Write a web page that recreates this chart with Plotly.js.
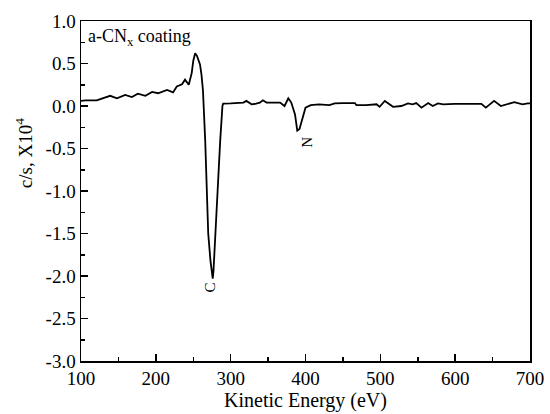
<!DOCTYPE html>
<html>
<head>
<meta charset="utf-8">
<script src="https://cdn.plot.ly/plotly-3.0.1.min.js"></script>
<style>html,body{margin:0;padding:0;background:#fff;}#plot{width:550px;height:414px;}</style>
</head>
<body>
<div id="plot"></div>
<script>
const energy = [100,106,121,139,148,159,168,176,186,195,203,215,223,228,235,239,244,248,250,252.5,255,259,261,263,266,268,270,273,275,276,277,279,283,286,289,290,300,310,317,321,328,334,339,343,348,366,372,377,381,386,389,392,396,400,407,418,432,439,450,466,468,481,495,499,506,517,528,537,543,548,555,564,570,577,584,599,635,641,652,661,679,690,697,700];
const counts = [0.06,0.067,0.067,0.12,0.09,0.13,0.105,0.145,0.12,0.165,0.15,0.19,0.16,0.23,0.255,0.31,0.25,0.39,0.53,0.62,0.59,0.49,0.37,0.18,-0.41,-1.0,-1.5,-1.82,-2.0,-2.03,-1.95,-1.59,-0.88,-0.41,0.0,0.027,0.03,0.035,0.04,0.06,0.02,0.027,0.04,0.067,0.04,0.04,0.0,0.09,0.04,-0.1,-0.29,-0.27,-0.14,-0.02,0.01,0.02,0.01,0.03,0.035,0.035,0.01,0.01,0.02,-0.01,0.06,-0.01,0.0,0.03,0.02,0.035,-0.02,0.035,0.0,0.03,0.02,0.025,0.025,-0.02,0.06,0.0,0.045,0.02,0.03,0.03];
const xTickVals = [100,200,300,400,500,600,700];
const xTickText = ["100","200","300","400","500","600","700"];
const yTickVals = [1.0,0.5,0.0,-0.5,-1.0,-1.5,-2.0,-2.5,-3.0];
const yTickText = ["1.0","0.5","0.0","-0.5","-1.0","-1.5","-2.0","-2.5","-3.0"];
const peakLabels = [{text:"C", x:272, y:-2.14}, {text:"N", x:401, y:-0.43}];

const FAM = "'Liberation Serif', 'Times New Roman', serif";
const font = {family:FAM, color:"#000", size:18};

const annotations = peakLabels.map(p => ({
  x:p.x, y:p.y, xref:"x", yref:"y", text:p.text, showarrow:false, textangle:-90,
  font:{family:FAM, size:15, color:"#000"}
}));
annotations.push({
  x:0.012, y:0.952, xref:"paper", yref:"paper", xanchor:"left", yanchor:"middle",
  text:"a-CN<sub>x</sub> coating", showarrow:false, font:{family:FAM, size:18, color:"#000"}
});
annotations.push({
  x:-0.128, y:0.61, xref:"paper", yref:"paper", xanchor:"center", yanchor:"middle",
  text:"c/s, X10<sup>4</sup>", showarrow:false, textangle:-90, font:{family:FAM, size:19, color:"#000"}
});

Plotly.newPlot("plot", [{
  x: energy, y: counts, type:"scatter", mode:"lines",
  line:{color:"#000", width:1.8}, hoverinfo:"skip"
}], {
  width:550, height:414,
  margin:{l:81, r:20, t:21, b:53},
  paper_bgcolor:"#fff", plot_bgcolor:"#fff",
  font: font,
  showlegend:false,
  xaxis:{
    range:[100,700], tickvals:xTickVals, ticktext:xTickText,
    ticks:"inside", ticklen:7, tickwidth:1.5, tickcolor:"#000",
    minor:{ticks:"inside", dtick:50, tick0:100, ticklen:4, tickwidth:1.5, tickcolor:"#000"},
    showline:true, linecolor:"#000", linewidth:1.5, mirror:true,
    showgrid:false, zeroline:false,
    title:{text:"Kinetic Energy (eV)", font:{family:FAM, size:20, color:"#000"}, standoff:4},
    tickfont:{family:FAM, size:19, color:"#000"}
  },
  yaxis:{
    range:[-3.0,1.0], tickvals:yTickVals, ticktext:yTickText,
    ticks:"inside", ticklen:7, tickwidth:1.5, tickcolor:"#000",
    minor:{ticks:"inside", dtick:0.25, tick0:0, ticklen:4, tickwidth:1.5, tickcolor:"#000"},
    showline:true, linecolor:"#000", linewidth:1.5, mirror:true,
    showgrid:false, zeroline:false,
    tickfont:{family:FAM, size:19, color:"#000"}
  },
  annotations: annotations
}, {displayModeBar:false, staticPlot:true});
</script>
</body>
</html>
